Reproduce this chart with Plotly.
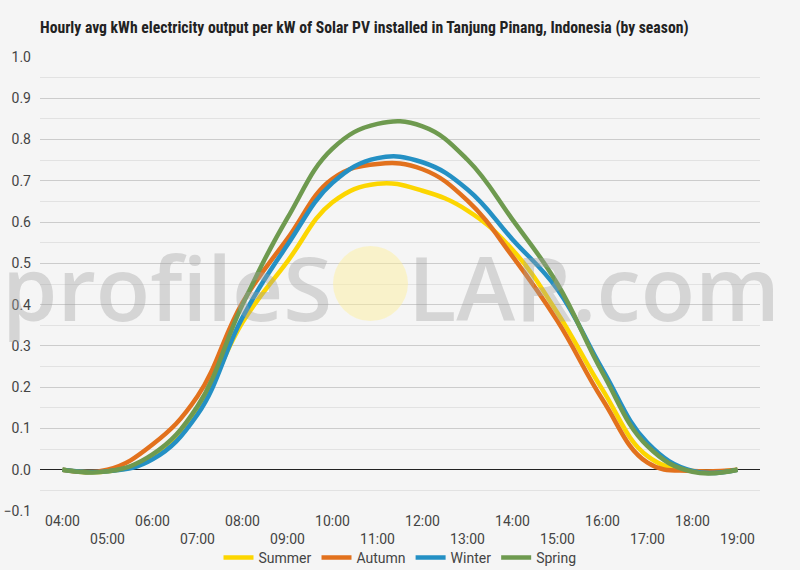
import plotly.graph_objects as go

hours = ["04:00", "05:00", "06:00", "07:00", "08:00", "09:00", "10:00", "11:00",
         "12:00", "13:00", "14:00", "15:00", "16:00", "17:00", "18:00", "19:00"]

summer = [0.0, -0.004, 0.030, 0.146, 0.357, 0.505, 0.648, 0.693, 0.676, 0.628, 0.533, 0.380, 0.194, 0.033, -0.003, 0.0]
autumn = [0.0, 0.000, 0.061, 0.178, 0.405, 0.560, 0.705, 0.741, 0.728, 0.652, 0.517, 0.360, 0.170, 0.017, -0.003, 0.0]
winter = [0.0, -0.004, 0.025, 0.134, 0.369, 0.545, 0.695, 0.755, 0.745, 0.679, 0.558, 0.437, 0.243, 0.065, -0.003, 0.0]
spring = [0.0, -0.004, 0.037, 0.154, 0.400, 0.610, 0.778, 0.838, 0.832, 0.751, 0.606, 0.450, 0.235, 0.057, -0.005, 0.0]

series = [
    ("Summer", summer, "#fcd600"),
    ("Autumn", autumn, "#e2711d"),
    ("Winter", winter, "#2490c4"),
    ("Spring", spring, "#6e9a4f"),
]

y_ticks = [round(-0.1 + 0.1 * i, 1) for i in range(12)]
tick_text = [h if i % 2 == 0 else "<br>" + h for i, h in enumerate(hours)]

fig = go.Figure()
for name, vals, col in series:
    fig.add_trace(go.Scatter(
        x=hours, y=vals, name=name, mode="lines",
        line=dict(color=col, width=4.5, shape="spline", smoothing=1.2),
    ))

BG = "#f5f5f5"
W, H = 800, 570
L, R, T, B = 40, 40, 57, 59
pw, ph = W - L - R, H - T - B

def px(x):
    return (x - L) / pw

def py(y):
    return (H - B - y) / ph

fig.update_layout(
    width=W, height=H,
    margin=dict(l=L, r=R, t=T, b=B, autoexpand=False),
    paper_bgcolor=BG, plot_bgcolor=BG,
    font=dict(family="Roboto, sans-serif", size=14, color="#444"),
    title=dict(
        text="<b>Hourly avg kWh electricity output per kW of Solar PV installed in Tanjung Pinang, Indonesia (by season)</b>",
        x=L / W, xanchor="left", y=1 - 28 / H, yanchor="middle", yref="container",
        font=dict(family="Roboto Condensed, Liberation Sans Narrow, DejaVu Sans Condensed, sans-serif", size=15.7, color="#222"),
    ),
    xaxis=dict(
        type="category", range=[-0.5, 15.5], automargin=False,
        tickmode="array", tickvals=hours, ticktext=tick_text,
        showgrid=False, showline=False, ticks="", zeroline=False,
        tickfont=dict(size=14, color="#444"),
    ),
    yaxis=dict(
        range=[-0.1, 1.0], tickmode="array", tickvals=y_ticks, automargin=False,
        tickformat=".1f", showgrid=True, gridcolor="#cccccc", gridwidth=1,
        zeroline=True, zerolinecolor="#222", zerolinewidth=1,
        minor=dict(dtick=0.05, showgrid=True, gridcolor="#e2e2e2", gridwidth=1, ticks=""),
        ticks="", tickfont=dict(size=14, color="#444"), ticklabelstandoff=8,
    ),
    legend=dict(
        orientation="h", x=0.5, xanchor="center", y=py(558), yanchor="middle",
        font=dict(size=14, color="#444"), bgcolor="rgba(0,0,0,0)",
        itemwidth=30, tracegroupgap=0,
    ),
    showlegend=True,
)

wm_font = dict(family="Open Sans, sans-serif", size=89, weight=600, color="rgba(160,160,160,0.38)")
fig.add_annotation(text="profileS", xref="paper", yref="paper", x=px(334), y=py(286),
                   xanchor="right", yanchor="middle", showarrow=False, font=wm_font)
fig.add_annotation(text="LAR.com", xref="paper", yref="paper", x=px(406), y=py(286),
                   xanchor="left", yanchor="middle", showarrow=False, font=wm_font)
fig.add_shape(type="circle", xref="paper", yref="paper",
              x0=px(333), x1=px(408), y0=py(321), y1=py(246),
              fillcolor="rgba(255,240,150,0.45)", line=dict(width=0), layer="above")

fig.write_html("out.html")
